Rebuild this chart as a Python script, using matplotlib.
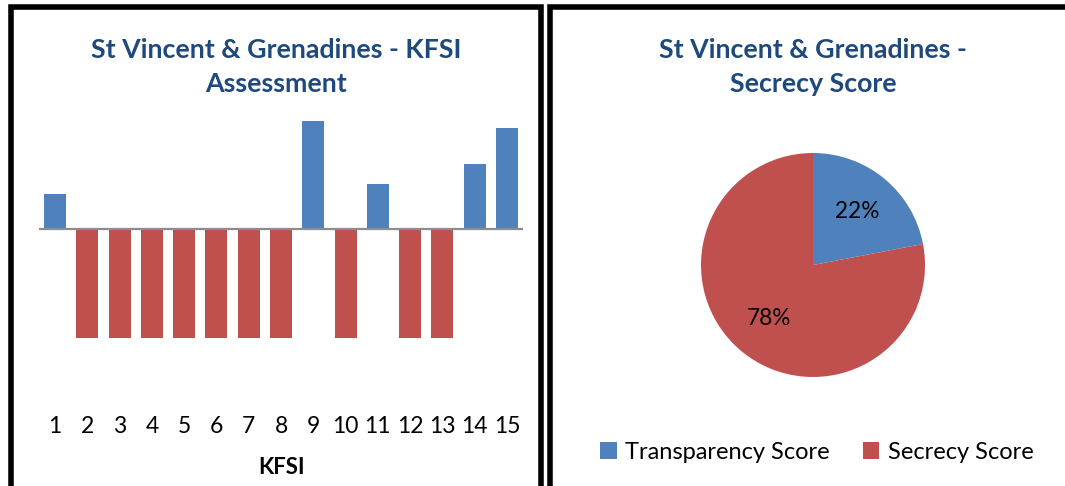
import matplotlib
matplotlib.use("Agg")
import matplotlib.pyplot as plt
from matplotlib.patches import Rectangle

# ---- data ----
kfsi_labels = [str(i) for i in range(1, 16)]
kfsi_values = [0.33, -1, -1, -1, -1, -1, -1, -1, 1.0, -1, 0.42, -1, -1, 0.6, 0.93]
pie_labels = ["Transparency Score", "Secrecy Score"]
pie_values = [22, 78]

BLUE = "#4F81BD"
RED = "#C0504D"
TITLE_C = "#1F497D"
FONT = ["Lato", "DejaVu Sans"]
plt.rcParams["font.family"] = FONT

W, H = 1065, 486
fig = plt.figure(figsize=(W / 100, H / 100), dpi=100)
fig.patch.set_facecolor("white")

def fr(x0, y0, x1, y1):
    # pixel box (top-down) -> figure fraction rect
    return [x0 / W, 1 - y1 / H, (x1 - x0) / W, (y1 - y0) / H]

# panel borders
lw = 4.0
fig.patches.append(Rectangle((11 / W, -0.2), (541 - 11) / W, 1 - 7.5 / H + 0.2,
                             transform=fig.transFigure, fill=False, ec="black", lw=lw, clip_on=False))
fig.patches.append(Rectangle((549.5 / W, -0.2), 0.6, 1 - 7.5 / H + 0.2,
                             transform=fig.transFigure, fill=False, ec="black", lw=lw, clip_on=False))

# ---- bar chart ----
ax = fig.add_axes(fr(39, 110, 523, 405))
x = list(range(1, 16))
colors = [BLUE if v > 0 else RED for v in kfsi_values]
ax.bar(x, kfsi_values, width=0.68, color=colors, zorder=2)
ax.axhline(0, color="#8C8C8C", lw=1.6, zorder=3)
ax.set_xlim(0.5, 15.5)
ax.set_ylim((229.3 - 405) / 108.4, (229.3 - 110) / 108.4)
ax.set_xticks(x)
ax.set_xticklabels(kfsi_labels, fontsize=16.5)
ax.tick_params(axis="x", length=0, pad=8)
ax.set_yticks([])
for s in ax.spines.values():
    s.set_visible(False)
ax.set_xlabel("KFSI", fontsize=16, fontweight="bold", labelpad=14)

fig.text(276 / W, 1 - 67 / H, "St Vincent & Grenadines - KFSI\nAssessment", ha="center", va="center",
         fontsize=19.3, fontweight="bold", color=TITLE_C, linespacing=1.55)

# ---- pie chart ----
pax = fig.add_axes(fr(701, 153, 925, 377))
wedges, texts, autotexts = pax.pie(pie_values, colors=[BLUE, RED], startangle=90, counterclock=False,
                                   autopct="%d%%", pctdistance=0.62, radius=1,
                                   textprops=dict(fontsize=16.3, color="black"))
pax.set_xlim(-1, 1)
pax.set_ylim(-1, 1)
fig.text(813 / W, 1 - 67 / H, "St Vincent & Grenadines -\nSecrecy Score", ha="center", va="center",
         fontsize=19.3, fontweight="bold", color=TITLE_C, linespacing=1.55)

leg = fig.legend(wedges, pie_labels, loc="center", bbox_to_anchor=(817 / W, 1 - 452 / H), ncol=2,
                 frameon=False, fontsize=17.0, handlelength=0.7, handleheight=0.7,
                 handletextpad=0.35, columnspacing=1.4)

fig.savefig("out.png", dpi=100, facecolor="white")
